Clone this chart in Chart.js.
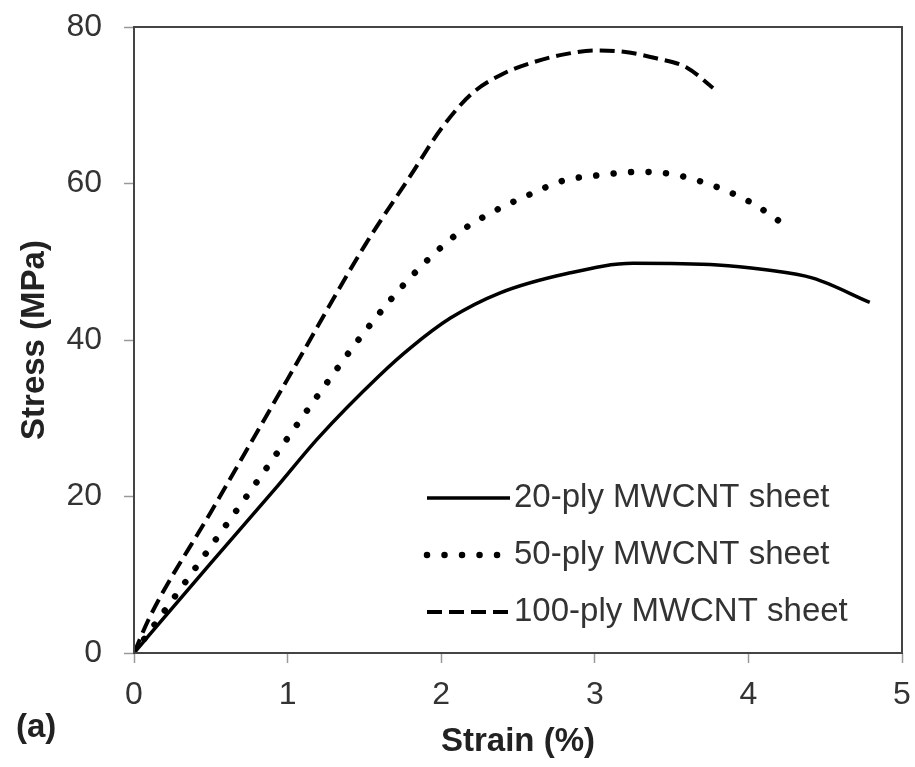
<!DOCTYPE html>
<html>
<head>
<meta charset="utf-8">
<script src="https://cdn.jsdelivr.net/npm/chart.js@4/dist/chart.umd.min.js"></script>
<style>
  html, body { margin: 0; padding: 0; background: #fff; }
  #wrap { width: 915px; height: 767px; }
</style>
</head>
<body>
<div id="wrap"><canvas id="stressChart" width="915" height="767"></canvas></div>
<script>
// values
const seriesNames = ['20-ply MWCNT sheet', '50-ply MWCNT sheet', '100-ply MWCNT sheet'];

const strain20 = [0, 0.5, 0.92, 1.2, 1.6, 1.8, 2.06, 2.38, 2.82, 3.25, 3.8, 4.1, 4.42, 4.79];
const stress20 = [0, 11.5, 21, 27.5, 35.5, 39, 42.8, 46, 48.5, 49.8, 49.6, 49, 47.9, 44.8];

const strain50 = [0, 0.35, 0.75, 1.2, 1.5, 1.8, 2.1, 2.3, 2.6, 2.8, 3.0, 3.3, 3.5, 3.7, 3.9, 4.05, 4.2];
const stress50 = [0, 9.5, 20.5, 33, 41, 48, 53.5, 56, 58.8, 60.4, 61, 61.5, 61.2, 60.2, 58.7, 57.2, 55.2];

const strain100 = [0, 0.1, 0.5, 1.0, 1.5, 1.8, 2.0, 2.2, 2.4, 2.6, 2.8, 3.0, 3.2, 3.4, 3.6, 3.77];
const stress100 = [0, 4.5, 18, 35, 52, 61, 67, 71.5, 74, 75.5, 76.5, 77, 76.8, 76, 74.8, 72.2];

const xTicks = [0, 1, 2, 3, 4, 5];
const yTicks = [0, 20, 40, 60, 80];

function toPoints(xs, ys) {
    return xs.map((x, i) => ({ x: x, y: ys[i] }));
}

const FONT = 'Liberation Sans, Arial, sans-serif';

// box around the plot, legend inside the plot, and the panel letter
const framePlugin = {
    id: 'frame',
    afterDraw(chart) {
        const { ctx, chartArea } = chart;
        ctx.save();
        ctx.strokeStyle = '#444';
        ctx.lineWidth = 2;
        ctx.strokeRect(chartArea.left, chartArea.top, chartArea.right - chartArea.left, chartArea.bottom - chartArea.top);

        // legend
        const x0 = chartArea.left + 293;
        const x1 = chartArea.left + 376;
        let y = chartArea.top + 471;
        chart.data.datasets.forEach(ds => {
            ctx.strokeStyle = ds.borderColor;
            ctx.lineWidth = ds.borderWidth;
            ctx.lineCap = ds.borderCapStyle || 'butt';
            ctx.setLineDash(ds.borderDash || []);
            ctx.beginPath();
            ctx.moveTo(x0, y);
            ctx.lineTo(x1, y);
            ctx.stroke();
            ctx.setLineDash([]);
            ctx.fillStyle = '#333';
            ctx.font = '33px ' + FONT;
            ctx.textBaseline = 'middle';
            ctx.textAlign = 'left';
            ctx.fillText(ds.label, x1 + 4, y);
            y += 57;
        });

        ctx.fillStyle = '#222';
        ctx.font = 'bold 33px ' + FONT;
        ctx.textBaseline = 'middle';
        ctx.fillText('(a)', 16, 728);
        ctx.restore();
    }
};

const ctx = document.getElementById('stressChart').getContext('2d');

window.stressChart = new Chart(ctx, {
    type: 'line',
    data: {
        datasets: [
            {
                label: seriesNames[0],
                data: toPoints(strain20, stress20),
                borderColor: '#000',
                borderWidth: 3.5,
                cubicInterpolationMode: 'monotone',
                pointRadius: 0
            },
            {
                label: seriesNames[1],
                data: toPoints(strain50, stress50),
                borderColor: '#000',
                borderWidth: 6.5,
                borderDash: [0.01, 17.5],
                borderCapStyle: 'round',
                cubicInterpolationMode: 'monotone',
                pointRadius: 0
            },
            {
                label: seriesNames[2],
                data: toPoints(strain100, stress100),
                borderColor: '#000',
                borderWidth: 4,
                borderDash: [15, 7],
                cubicInterpolationMode: 'monotone',
                pointRadius: 0
            }
        ]
    },
    options: {
        responsive: false,
        animation: false,
        layout: { padding: { left: 0, top: 27, right: 13, bottom: 0 } },
        plugins: {
            legend: { display: false },
            tooltip: { enabled: false }
        },
        scales: {
            x: {
                type: 'linear',
                min: 0,
                max: 5,
                afterBuildTicks: s => { s.ticks = xTicks.map(v => ({ value: v })); },
                afterFit: s => { s.height = 114; s.paddingLeft = 0; s.paddingRight = 0; },
                grid: { drawOnChartArea: false, tickLength: 10, color: '#999', tickWidth: 1.5 },
                border: { display: false },
                ticks: { color: '#333', padding: 13, font: { family: FONT, size: 32 } },
                title: {
                    display: true,
                    text: 'Strain (%)',
                    color: '#222',
                    padding: { top: 0, bottom: 5 },
                    font: { family: FONT, size: 33, weight: 'bold' }
                }
            },
            y: {
                min: 0,
                max: 80,
                afterBuildTicks: s => { s.ticks = yTicks.map(v => ({ value: v })); },
                afterFit: s => { s.width = 134; s.paddingTop = 0; s.paddingBottom = 0; },
                grid: { drawOnChartArea: false, tickLength: 10, color: '#999', tickWidth: 1.5 },
                border: { display: false },
                ticks: { color: '#333', padding: 22, font: { family: FONT, size: 32 } },
                title: {
                    display: true,
                    text: 'Stress (MPa)',
                    color: '#222',
                    padding: { top: 15, bottom: 0 },
                    font: { family: FONT, size: 33, weight: 'bold' }
                }
            }
        }
    },
    plugins: [framePlugin]
});
</script>
</body>
</html>
